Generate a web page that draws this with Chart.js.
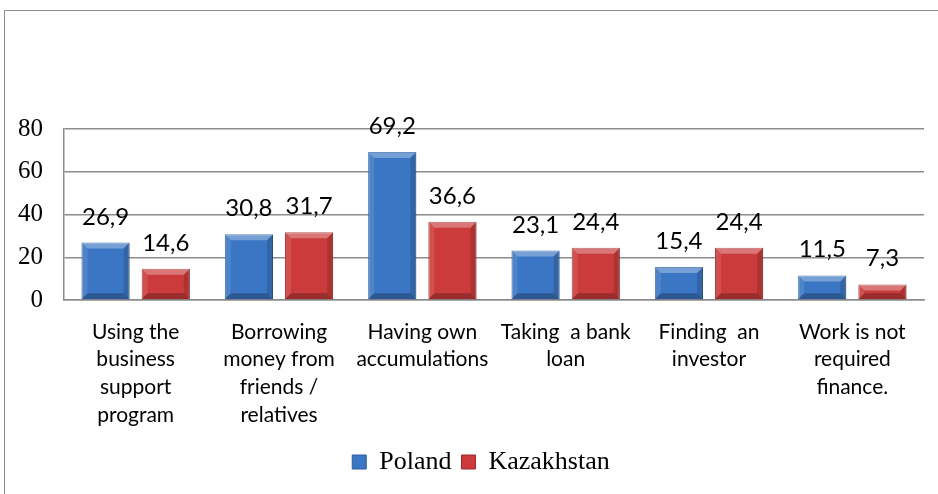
<!DOCTYPE html>
<html>
<head>
<meta charset="utf-8">
<script src="https://cdn.jsdelivr.net/npm/chart.js@4"></script>
<style>
  html, body { margin: 0; padding: 0; background: #fff; }
  #wrap { position: relative; width: 938px; height: 494px; overflow: hidden; }
  #frame { position: absolute; left: 4px; top: 10px; width: 960px; height: 520px; border: 1px solid #8c8c8c; }
  canvas { position: absolute; left: 0; top: 0; }
</style>
</head>
<body>
<div id="wrap">
  <div id="frame"></div>
  <canvas id="chart" width="938" height="494"></canvas>
</div>
<script>
const categories = [
    ["Using the", "business", "support", "program"],
    ["Borrowing", "money from", "friends /", "relatives"],
    ["Having own", "accumulations"],
    ["Taking  a bank", "loan"],
    ["Finding  an", "investor"],
    ["Work is not", "required", "finance."]
];
const poland = [26.9, 30.8, 69.2, 23.1, 15.4, 11.5];
const kazakhstan = [14.6, 31.7, 36.6, 24.4, 24.4, 7.3];
const yTicks = [0, 20, 40, 60, 80];

const labelFont = '"Lato", "Open Sans", sans-serif';
const serifFont = '"Liberation Serif", "Times New Roman", serif';

// value labels above bars, with comma decimals
const valueLabels = {
    id: 'valueLabels',
    afterDatasetsDraw(chart) {
        const ctx = chart.ctx;
        ctx.save();
        ctx.font = '24px ' + labelFont;
        ctx.fillStyle = '#000';
        ctx.textAlign = 'center';
        ctx.textBaseline = 'alphabetic';
        chart.data.datasets.forEach((ds, i) => {
            chart.getDatasetMeta(i).data.forEach((bar, j) => {
                const txt = ds.data[j].toFixed(1).replace('.', ',');
                ctx.fillText(txt, bar.x, bar.y - 18);
            });
        });
        ctx.restore();
    }
};

// simple bevel look on each bar
const bevel = {
    id: 'bevel',
    afterDatasetsDraw(chart) {
        const ctx = chart.ctx;
        const b = 6;
        ctx.save();
        chart.data.datasets.forEach((ds, i) => {
            chart.getDatasetMeta(i).data.forEach(bar => {
                const l = bar.x - bar.width / 2, r = bar.x + bar.width / 2;
                const t = bar.y, bt = bar.base;
                const bb = Math.min(b, (bt - t) / 2);
                ctx.fillStyle = 'rgba(255,255,255,0.3)';
                ctx.beginPath();
                ctx.moveTo(l, t); ctx.lineTo(r, t); ctx.lineTo(r - bb, t + bb); ctx.lineTo(l + bb, t + bb);
                ctx.closePath(); ctx.fill();
                ctx.fillStyle = 'rgba(255,255,255,0.1)';
                ctx.beginPath();
                ctx.moveTo(l, t); ctx.lineTo(l + bb, t + bb); ctx.lineTo(l + bb, bt - bb); ctx.lineTo(l, bt);
                ctx.closePath(); ctx.fill();
                ctx.fillStyle = 'rgba(0,0,0,0.15)';
                ctx.beginPath();
                ctx.moveTo(r, t); ctx.lineTo(r - bb, t + bb); ctx.lineTo(r - bb, bt - bb); ctx.lineTo(r, bt);
                ctx.closePath(); ctx.fill();
                ctx.fillStyle = 'rgba(0,0,0,0.25)';
                ctx.beginPath();
                ctx.moveTo(l, bt); ctx.lineTo(r, bt); ctx.lineTo(r - bb, bt - bb); ctx.lineTo(l + bb, bt - bb);
                ctx.closePath(); ctx.fill();
            });
        });
        ctx.restore();
    }
};

// nudge the legend a little to the right, like the original
const legendShift = {
    id: 'legendShift',
    afterLayout(chart) {
        if (chart.legend) {
            chart.legend.left += 17;
            chart.legend.right += 17;
        }
    }
};

const ctx = document.getElementById('chart').getContext('2d');
const chart = new Chart(ctx, {
    type: 'bar',
    data: {
        labels: categories,
        datasets: [{
            label: 'Poland',
            data: poland,
            backgroundColor: '#3b76c4',
            borderColor: '#2b5c9e',
            borderWidth: 1,
            barPercentage: 0.8,
            categoryPercentage: 0.84
        }, {
            label: 'Kazakhstan',
            data: kazakhstan,
            backgroundColor: '#cc3b3b',
            borderColor: '#9c2a2a',
            borderWidth: 1,
            barPercentage: 0.8,
            categoryPercentage: 0.84
        }]
    },
    options: {
        responsive: false,
        animation: false,
        layout: { padding: { left: 4, right: 14, top: 129, bottom: 9 } },
        plugins: {
            tooltip: { enabled: false },
            legend: {
                position: 'bottom',
                labels: {
                    color: '#000',
                    font: { family: serifFont, size: 26 },
                    boxWidth: 14,
                    boxHeight: 14,
                    padding: 10
                }
            }
        },
        scales: {
            x: {
                grid: { display: false, drawTicks: false },
                border: { color: '#8c8c8c', width: 1.5 },
                ticks: {
                    color: '#000',
                    font: { family: labelFont, size: 21, lineHeight: 1.32 },
                    padding: 18,
                    maxRotation: 0,
                    autoSkip: false
                },
                afterFit(scale) { scale.height = 139; }
            },
            y: {
                min: 0,
                max: 80,
                afterBuildTicks(scale) { scale.ticks = yTicks.map(v => ({ value: v })); },
                grid: { color: '#8c8c8c', lineWidth: 1.5, drawTicks: false },
                border: { color: '#8c8c8c', width: 1.5 },
                ticks: {
                    color: '#000',
                    font: { family: serifFont, size: 25 },
                    padding: 21
                },
                afterFit(scale) { scale.width = 60; }
            }
        }
    },
    plugins: [bevel, valueLabels, legendShift]
});
</script>
</body>
</html>
